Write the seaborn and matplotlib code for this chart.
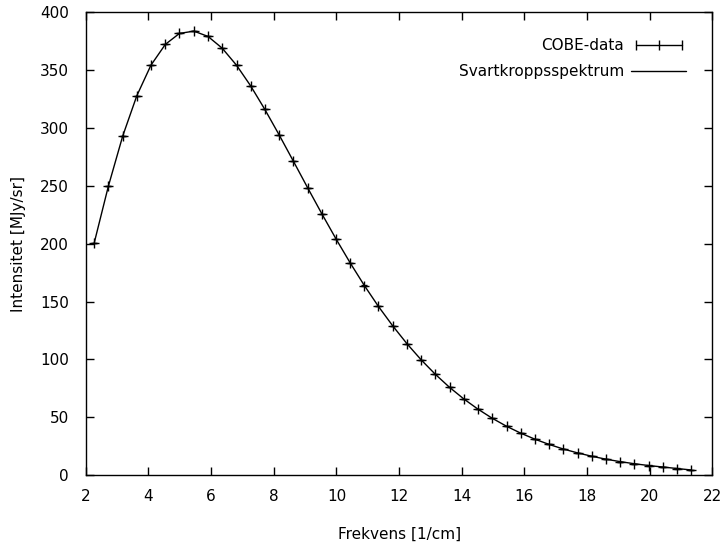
import numpy as np
import pandas as pd
import seaborn as sns
import matplotlib.pyplot as plt
from matplotlib.lines import Line2D
from matplotlib.legend_handler import HandlerLine2D

# COBE FIRAS data
freq = [2.27, 2.72, 3.18, 3.63, 4.08, 4.54, 4.99, 5.45, 5.90, 6.35, 6.81, 7.26,
        7.71, 8.17, 8.62, 9.08, 9.53, 9.98, 10.44, 10.89, 11.34, 11.80, 12.25,
        12.71, 13.16, 13.61, 14.07, 14.52, 14.97, 15.43, 15.88, 16.34, 16.79,
        17.24, 17.70, 18.15, 18.61, 19.06, 19.51, 19.97, 20.42, 20.87, 21.33]
intensity = [200.723, 249.508, 293.024, 327.770, 354.081, 372.079, 381.493,
             383.478, 378.901, 368.833, 354.063, 336.278, 316.076, 293.924,
             271.432, 248.239, 225.940, 204.327, 183.262, 163.830, 145.750,
             128.835, 113.568, 99.451, 87.036, 75.876, 65.766, 57.008, 49.223,
             42.267, 36.352, 31.062, 26.580, 22.644, 19.255, 16.391, 13.811,
             11.716, 9.921, 8.364, 7.087, 5.801, 4.523]
# uncertainty in MJy/sr (tiny)
err = [0.014, 0.019, 0.025, 0.023, 0.022, 0.021, 0.018, 0.018, 0.016, 0.014,
       0.013, 0.012, 0.011, 0.010, 0.011, 0.012, 0.014, 0.016, 0.018, 0.022,
       0.022, 0.023, 0.023, 0.023, 0.022, 0.021, 0.020, 0.019, 0.019, 0.019,
       0.021, 0.023, 0.026, 0.028, 0.030, 0.032, 0.033, 0.035, 0.041, 0.055,
       0.088, 0.155, 0.282]

df = pd.DataFrame({'freq': freq, 'intensity': intensity, 'err': err})

sns.set_style('ticks')
plt.rcParams['font.family'] = ['DejaVu Sans']
plt.rcParams['font.size'] = 11
plt.rcParams['text.color'] = 'black'
plt.rcParams['axes.labelcolor'] = 'black'
plt.rcParams['xtick.color'] = 'black'
plt.rcParams['ytick.color'] = 'black'
plt.rcParams['axes.edgecolor'] = 'black'

fig, ax = plt.subplots(figsize=(7.27, 5.45), dpi=100)
# blackbody line
sns.lineplot(data=df, x='freq', y='intensity', color='black', linewidth=1.0, ax=ax)
# data points with error bars
ax.errorbar(df['freq'], df['intensity'], yerr=df['err'], fmt='none', ecolor='black',
            elinewidth=1, capsize=2)
ax.scatter(df['freq'], df['intensity'], marker='+', c='black', s=45, linewidths=1, zorder=3)

# legend like gnuplot key
h_data = Line2D([], [], color='black', linewidth=1, marker='|', markersize=7)
h_line = Line2D([], [], color='black', linewidth=1)
ax.legend([h_data, h_line], ['COBE-data', 'Svartkroppsspektrum'],
          handler_map={h_data: HandlerLine2D(numpoints=3)},
          loc='upper right', markerfirst=False, frameon=False, fontsize=11,
          handlelength=3.6, handletextpad=0.5, borderaxespad=1.3, labelspacing=0.75)

# set axis
ax.set_xlim(2, 22)
ax.set_ylim(0, 400)
ax.set_xticks(np.arange(2, 23, 2))
ax.set_yticks(np.arange(0, 401, 50))
ax.tick_params(direction='in', top=True, right=True, length=6, width=1, labelsize=11)
ax.tick_params(axis='x', pad=10)
ax.tick_params(axis='y', pad=12)
for s in ax.spines.values():
    s.set_linewidth(1)
ax.set_xlabel('Frekvens [1/cm]', fontsize=11, labelpad=16)
ax.set_ylabel('Intensitet [MJy/sr]', fontsize=11, labelpad=10)
plt.subplots_adjust(left=0.118, right=0.98, top=0.978, bottom=0.128)
fig.savefig('out.png', dpi=100)
